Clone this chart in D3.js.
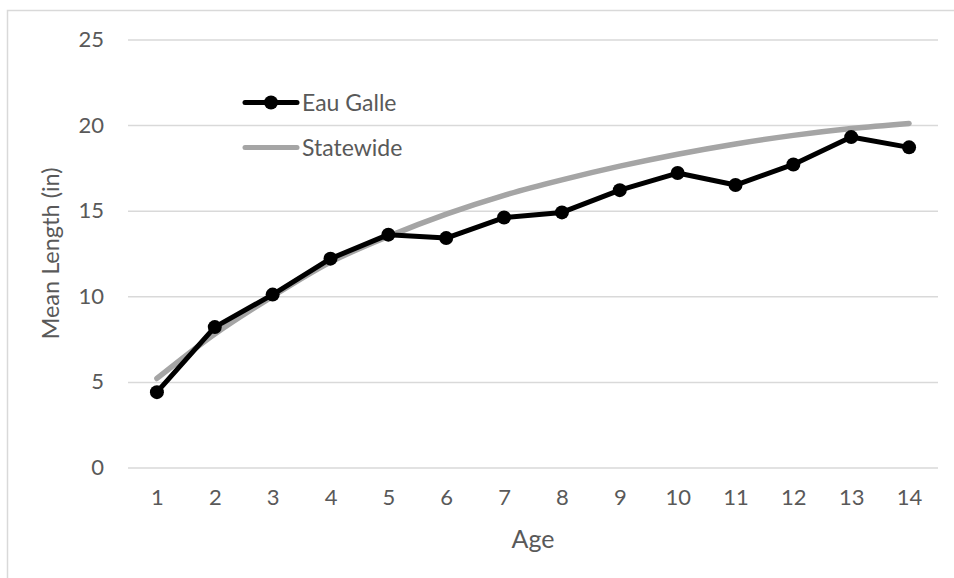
<!DOCTYPE html>
<html>
<head>
<meta charset="utf-8">
<script src="https://cdn.jsdelivr.net/npm/d3@7"></script>
<style>
  html, body { margin: 0; padding: 0; background: #ffffff; }
  svg { display: block; }
  text { font-family: "Lato", "Open Sans", sans-serif; fill: #595959; }
</style>
</head>
<body>
<svg id="chart" width="954" height="578"></svg>
<script>
// Mean length at age, Eau Galle sample vs. statewide growth curve
const ages = [1, 2, 3, 4, 5, 6, 7, 8, 9, 10, 11, 12, 13, 14];
const eauGalle = [4.4, 8.2, 10.1, 12.2, 13.6, 13.4, 14.6, 14.9, 16.2, 17.2, 16.5, 17.7, 19.3, 18.7];
const statewide = [5.2, 7.8, 10.0, 12.0, 13.5, 14.8, 15.9, 16.8, 17.6, 18.3, 18.9, 19.4, 19.8, 20.1];
const yTicks = [0, 5, 10, 15, 20, 25];
const seriesNames = ["Eau Galle", "Statewide"];

const svg = d3.select("#chart");
const plot = { left: 128, right: 938, top: 39.5, bottom: 467.5 };

// chart area outline
svg.append("rect")
  .attr("x", 7.5).attr("y", 10.5)
  .attr("width", 1200).attr("height", 1200)
  .attr("fill", "none").attr("stroke", "#d9d9d9").attr("stroke-width", 1.5);

const x = d3.scalePoint().domain(ages).range([plot.left, plot.right]).padding(0.5);
const y = d3.scaleLinear().domain([0, 25]).range([plot.bottom, plot.top]);

// value axis with horizontal gridlines
const yAxis = svg.append("g")
  .attr("transform", `translate(${plot.left},0)`)
  .call(d3.axisLeft(y).tickValues(yTicks).tickSize(-(plot.right - plot.left)).tickPadding(24));
yAxis.select(".domain").remove();
yAxis.selectAll(".tick line").attr("stroke", "#d9d9d9").attr("stroke-width", 1.5);
yAxis.selectAll(".tick text").attr("font-size", 22).attr("fill", "#595959")
  .style("font-family", "Lato, 'Open Sans', sans-serif");

// category axis
const xAxis = svg.append("g")
  .attr("transform", `translate(0,${plot.bottom})`)
  .call(d3.axisBottom(x).tickSize(0).tickPadding(22));
xAxis.select(".domain").remove();
xAxis.selectAll(".tick text").attr("font-size", 22).attr("fill", "#595959")
  .style("font-family", "Lato, 'Open Sans', sans-serif");

// axis titles
svg.append("text")
  .attr("x", (plot.left + plot.right) / 2).attr("y", 548)
  .attr("text-anchor", "middle").attr("font-size", 25)
  .text("Age");
svg.append("text")
  .attr("transform", `translate(59,${(plot.top + plot.bottom) / 2}) rotate(-90)`)
  .attr("text-anchor", "middle").attr("font-size", 23.5)
  .text("Mean Length (in)");

// statewide smooth curve
const lineGen = d3.line()
  .x((d, i) => x(ages[i]))
  .y(d => y(d));

svg.append("path")
  .datum(statewide)
  .attr("d", lineGen.curve(d3.curveCatmullRom.alpha(0.5)))
  .attr("fill", "none").attr("stroke", "#a5a5a5")
  .attr("stroke-width", 5.5).attr("stroke-linecap", "round").attr("stroke-linejoin", "round");

// Eau Galle observed means
svg.append("path")
  .datum(eauGalle)
  .attr("d", d3.line().x((d, i) => x(ages[i])).y(d => y(d))(eauGalle))
  .attr("fill", "none").attr("stroke", "#000000")
  .attr("stroke-width", 5).attr("stroke-linejoin", "round");

svg.append("g").selectAll("circle")
  .data(eauGalle)
  .join("circle")
  .attr("cx", (d, i) => x(ages[i]))
  .attr("cy", d => y(d))
  .attr("r", 7)
  .attr("fill", "#000000");

// legend
const legend = svg.append("g");
const legendRows = [
  { name: seriesNames[0], y: 102.5, color: "#000000", marker: true },
  { name: seriesNames[1], y: 147.5, color: "#a5a5a5", marker: false }
];
legendRows.forEach(r => {
  legend.append("line")
    .attr("x1", 245).attr("x2", 297).attr("y1", r.y).attr("y2", r.y)
    .attr("stroke", r.color).attr("stroke-width", 5).attr("stroke-linecap", "round");
  if (r.marker) {
    legend.append("circle").attr("cx", 271).attr("cy", r.y).attr("r", 7).attr("fill", r.color);
  }
  legend.append("text")
    .attr("x", 302).attr("y", r.y).attr("dy", "0.36em")
    .attr("font-size", 23)
    .text(r.name);
});
</script>
</body>
</html>
